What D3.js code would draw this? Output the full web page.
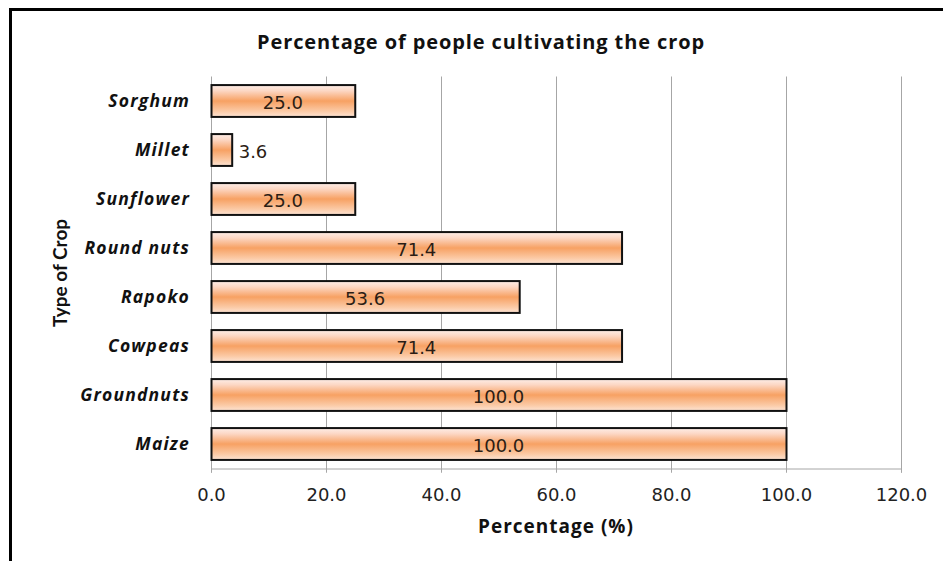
<!DOCTYPE html>
<html>
<head>
<meta charset="utf-8">
<script src="https://cdn.jsdelivr.net/npm/d3@7"></script>
<style>
  html, body { margin: 0; padding: 0; background: #fff; }
  svg { display: block; }
</style>
</head>
<body>
<svg id="chart" width="943" height="561"></svg>
<script>
// Crop data, listed top to bottom as drawn
const crops = ["Sorghum", "Millet", "Sunflower", "Round nuts", "Rapoko", "Cowpeas", "Groundnuts", "Maize"];
const percentages = [25.0, 3.6, 25.0, 71.4, 53.6, 71.4, 100.0, 100.0];
const xTicks = [0, 20, 40, 60, 80, 100, 120];

const chartTitle = "Percentage of people cultivating the crop";
const xTitle = "Percentage (%)";
const yTitle = "Type of Crop";

const svg = d3.select("#chart");
const W = 943, H = 561;
const plot = { left: 211, right: 901, top: 76.5, bottom: 468.5 };

const x = d3.scaleLinear().domain([0, 120]).range([plot.left, plot.right]);
const y = d3.scaleBand().domain(crops).range([plot.top, plot.bottom])
  .paddingInner(0.35).paddingOuter(0.175);

// Bar fill: horizontal tube shading
const defs = svg.append("defs");
const grad = defs.append("linearGradient").attr("id", "barFill")
  .attr("x1", 0).attr("y1", 0).attr("x2", 0).attr("y2", 1);
[["0%", "#fdeee8"], ["18%", "#fcd7c4"], ["50%", "#f7a163"], ["82%", "#fbcaa6"], ["100%", "#fde4d4"]]
  .forEach(([o, c]) => grad.append("stop").attr("offset", o).attr("stop-color", c));

// Outer frame (left and top edges)
svg.append("path")
  .attr("d", `M10.5,${H} L10.5,9.5 L${W},9.5`)
  .attr("fill", "none").attr("stroke", "#000").attr("stroke-width", 3);

// Gridlines
svg.append("g").selectAll("line").data(xTicks.filter(t => t > 0)).join("line")
  .attr("x1", d => Math.round(x(d)) + 0.5).attr("x2", d => Math.round(x(d)) + 0.5)
  .attr("y1", plot.top).attr("y2", plot.bottom + 4)
  .attr("stroke", "#a6a6a6").attr("stroke-width", 1);

// X axis
const xAxis = svg.append("g").attr("transform", `translate(0,${plot.bottom})`)
  .call(d3.axisBottom(x).tickValues(xTicks).tickFormat(d3.format(".1f")).tickSize(4).tickPadding(16));
xAxis.select(".domain").attr("stroke", "#a6a6a6");
xAxis.selectAll(".tick line").attr("stroke", "#a6a6a6");
xAxis.selectAll(".tick text")
  .attr("font-family", "DejaVu Sans, Verdana, sans-serif")
  .attr("font-size", 18).attr("fill", "#222");

// Y axis
const yAxis = svg.append("g").attr("transform", `translate(${plot.left},0)`)
  .call(d3.axisLeft(y).tickSize(0).tickPadding(21));
yAxis.select(".domain").attr("stroke", "#a6a6a6").attr("d", `M0.5,${plot.top}V${plot.bottom + 4}`);
yAxis.selectAll(".tick text")
  .attr("font-family", "Open Sans, sans-serif")
  .attr("font-weight", "bold").attr("font-style", "italic")
  .attr("font-size", 17.5).attr("letter-spacing", 1.2).attr("fill", "#111");

// Bars
const rows = crops.map((c, i) => ({ crop: c, value: percentages[i] }));
svg.append("g").selectAll("rect").data(rows).join("rect")
  .attr("x", x(0) + 0.5)
  .attr("y", d => y(d.crop))
  .attr("width", d => x(d.value) - x(0))
  .attr("height", y.bandwidth())
  .attr("fill", "url(#barFill)")
  .attr("stroke", "#111").attr("stroke-width", 2);

// Value labels
const fmt = d3.format(".1f");
const labels = svg.append("g").selectAll("text").data(rows).join("text")
  .attr("font-family", "DejaVu Sans, Verdana, sans-serif")
  .attr("font-size", 18).attr("fill", "#2b1d14")
  .attr("dominant-baseline", "central")
  .attr("y", d => y(d.crop) + y.bandwidth() / 2 + 1)
  .text(d => fmt(d.value));
labels.each(function (d) {
  const w = this.getComputedTextLength();
  const barW = x(d.value) - x(0);
  if (w + 8 < barW) {
    d3.select(this).attr("x", x(0) + barW / 2).attr("text-anchor", "middle");
  } else {
    d3.select(this).attr("x", x(d.value) + 7).attr("text-anchor", "start");
  }
});

// Titles
svg.append("text")
  .attr("x", (plot.left + plot.right) / 2 - 75).attr("y", 49)
  .attr("text-anchor", "middle")
  .attr("font-family", "Open Sans, sans-serif").attr("font-weight", "bold")
  .attr("font-size", 20).attr("letter-spacing", 0.9).attr("fill", "#111")
  .text(chartTitle);

svg.append("text")
  .attr("x", (plot.left + plot.right) / 2).attr("y", 533)
  .attr("text-anchor", "middle")
  .attr("font-family", "Open Sans, sans-serif").attr("font-weight", "bold")
  .attr("font-size", 19).attr("letter-spacing", 1).attr("fill", "#111")
  .text(xTitle);

svg.append("text")
  .attr("transform", `translate(67,273) rotate(-90)`)
  .attr("text-anchor", "middle")
  .attr("font-family", "Lato, sans-serif").attr("font-weight", "bold")
  .attr("font-size", 19).attr("fill", "#111")
  .text(yTitle);
</script>
</body>
</html>
